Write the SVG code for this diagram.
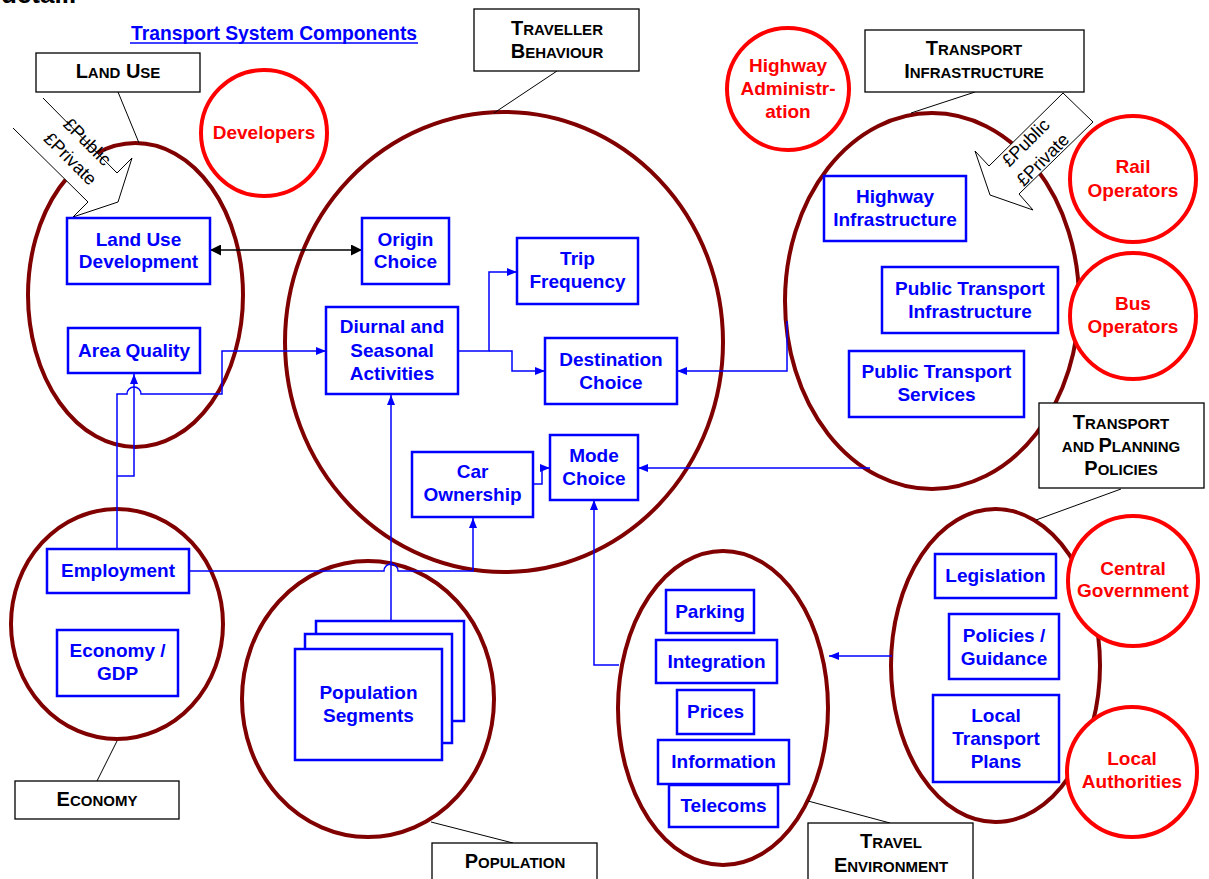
<svg xmlns="http://www.w3.org/2000/svg" width="1209" height="879" viewBox="0 0 1209 879">
  <style>
    text { font-family: "Liberation Sans", Arial, sans-serif; }
    .zone { fill: none; stroke: #800000; stroke-width: 4; }
    .actor { fill: #ffffff; stroke: #ff0000; stroke-width: 4; }
    .actor-t { fill: #ff0000; font-size: 19px; font-weight: bold; text-anchor: middle; }
    .box { fill: #ffffff; stroke: #0000ff; stroke-width: 2.5; }
    .box-t { fill: #0000ff; font-size: 19px; font-weight: bold; text-anchor: middle; }
    .lbl { fill: #ffffff; stroke: #000000; stroke-width: 1.3; }
    .lbl-t { fill: #000000; font-weight: bold; text-anchor: middle; font-size: 20px; }
    .sm { font-size: 15px; }
    .leader { stroke: #000000; stroke-width: 1; fill: none; }
    .link { fill: none; stroke: #0000ff; stroke-width: 1.5; }
    .money { fill: #ffffff; stroke: none; }
    .money-o { fill: none; stroke: #000000; stroke-width: 1; }
    .money-t { fill: #000000; font-size: 18px; text-anchor: middle; }
  </style>
  <defs>
    <marker id="ah" viewBox="0 0 10 8" refX="10" refY="4" markerWidth="10" markerHeight="8" markerUnits="userSpaceOnUse" orient="auto">
      <path d="M0,0 L10,4 L0,8 z" fill="#0000ff"/>
    </marker>
    <marker id="ahk" viewBox="0 0 11 11" refX="11" refY="5.5" markerWidth="11" markerHeight="11" markerUnits="userSpaceOnUse" orient="auto-start-reverse">
      <path d="M0,0 L11,5.5 L0,11 z" fill="#000000"/>
    </marker>
  </defs>

  <rect width="1209" height="879" fill="#ffffff"/>

  <!-- running text above the figure, clipped by the page edge -->
  <text x="1" y="3" font-family="Liberation Serif, serif" font-size="26" font-weight="bold" fill="#000000">detail.</text>

  <!-- title -->
  <g id="title">
    <text x="274" y="40" fill="#0000ff" font-size="19.3" font-weight="bold" text-anchor="middle">Transport System Components</text>
    <line x1="130" y1="43" x2="418" y2="43" stroke="#0000ff" stroke-width="1.6"/>
  </g>

  <!-- component zones -->
  <g id="zones">
    <ellipse id="zone-landuse" class="zone" cx="135.5" cy="295" rx="107.5" ry="152"/>
    <ellipse id="zone-traveller" class="zone" cx="504" cy="342" rx="219" ry="230"/>
    <ellipse id="zone-infra" class="zone" cx="932" cy="301" rx="147" ry="188"/>
    <ellipse id="zone-economy" class="zone" cx="117" cy="624" rx="106" ry="115"/>
    <ellipse id="zone-population" class="zone" cx="368" cy="699" rx="126" ry="138"/>
    <ellipse id="zone-travelenv" class="zone" cx="723" cy="708" rx="105" ry="157"/>
    <ellipse id="zone-policies" class="zone" cx="995.5" cy="665.5" rx="104.5" ry="156.5"/>
  </g>

  <!-- leader lines from zone titles -->
  <g id="leaders">
    <line class="leader" x1="118" y1="92" x2="139" y2="143"/>
    <line class="leader" x1="557" y1="71" x2="494" y2="113"/>
    <line class="leader" x1="975" y1="92" x2="911" y2="113"/>
    <line class="leader" x1="1121" y1="489" x2="1036" y2="520"/>
    <line class="leader" x1="117" y1="741" x2="97" y2="781"/>
    <line class="leader" x1="431" y1="822" x2="513" y2="843"/>
    <line class="leader" x1="808" y1="801" x2="890" y2="823"/>
  </g>

  <!-- funding arrows -->
  <g id="funding-landuse">
    <polygon class="money" points="43,98 117,173 132,158 118,202 73,217 88,202 13,128"/>
    <polyline class="money-o" points="43,98 117,173 132,158 118,202 73,217 88,202 13,128"/>
    <text class="money-t" transform="translate(83,146) rotate(45)">£Public</text>
    <text class="money-t" transform="translate(66,163) rotate(45)">£Private</text>
  </g>
  <g id="funding-infra">
    <polygon class="money" points="1063,93 1093,122 1019,194 1033,210 990,195 975,151 989,166"/>
    <polygon class="money-o" points="1063,93 1093,122 1019,194 1033,210 990,195 975,151 989,166"/>
    <text class="money-t" transform="translate(1030,147) rotate(-45)">£Public</text>
    <text class="money-t" transform="translate(1047,164) rotate(-45)">£Private</text>
  </g>

  <!-- connectors -->
  <g id="connectors">
    <path class="link" d="M117,549 V394 H127 A7,7 0 0 1 141,394 H222 V351 H326" marker-end="url(#ah)"/>
    <path class="link" d="M117,476 H134 V374" marker-end="url(#ah)"/>
    <path class="link" d="M189,571 H384 A7,7 0 0 1 398,571 H473 V518" marker-end="url(#ah)"/>
    <path class="link" d="M391,621 V395" marker-end="url(#ah)"/>
    <path class="link" d="M458,351 H489 V272 H517" marker-end="url(#ah)"/>
    <path class="link" d="M489,351 H512 V371 H545" marker-end="url(#ah)"/>
    <path class="link" d="M787,321 V371 H677" marker-end="url(#ah)"/>
    <path class="link" d="M870,468 H638" marker-end="url(#ah)"/>
    <path class="link" d="M533,484 H542 V468 H550" marker-end="url(#ah)"/>
    <path class="link" d="M619,665 H594 V500" marker-end="url(#ah)"/>
    <path class="link" d="M892,656 H829" marker-end="url(#ah)"/>
    <path d="M210,250 H362" stroke="#000000" stroke-width="1.3" fill="none" marker-start="url(#ahk)" marker-end="url(#ahk)"/>
  </g>

  <!-- zone titles -->
  <g id="label-landuse">
    <rect class="lbl" x="36" y="53" width="164" height="39"/>
    <text class="lbl-t" x="118" y="78">L<tspan class="sm">AND</tspan> U<tspan class="sm">SE</tspan></text>
  </g>
  <g id="label-traveller">
    <rect class="lbl" x="474" y="9" width="165" height="62"/>
    <text class="lbl-t" x="557" y="35">T<tspan class="sm">RAVELLER</tspan></text>
    <text class="lbl-t" x="557" y="58">B<tspan class="sm">EHAVIOUR</tspan></text>
  </g>
  <g id="label-infra">
    <rect class="lbl" x="865" y="30" width="219" height="62"/>
    <text class="lbl-t" x="974" y="55">T<tspan class="sm">RANSPORT</tspan></text>
    <text class="lbl-t" x="974" y="78">I<tspan class="sm">NFRASTRUCTURE</tspan></text>
  </g>
  <g id="label-policies">
    <rect class="lbl" x="1039" y="403" width="165" height="85"/>
    <text class="lbl-t" x="1121" y="429">T<tspan class="sm">RANSPORT</tspan></text>
    <text class="lbl-t" x="1121" y="452"><tspan class="sm">AND </tspan>P<tspan class="sm">LANNING</tspan></text>
    <text class="lbl-t" x="1121" y="475">P<tspan class="sm">OLICIES</tspan></text>
  </g>
  <g id="label-economy">
    <rect class="lbl" x="15" y="781" width="164" height="38"/>
    <text class="lbl-t" x="97" y="806">E<tspan class="sm">CONOMY</tspan></text>
  </g>
  <g id="label-population">
    <rect class="lbl" x="432" y="843" width="165" height="45"/>
    <text class="lbl-t" x="515" y="868">P<tspan class="sm">OPULATION</tspan></text>
  </g>
  <g id="label-travelenv">
    <rect class="lbl" x="808" y="823" width="165" height="65"/>
    <text class="lbl-t" x="891" y="848">T<tspan class="sm">RAVEL</tspan></text>
    <text class="lbl-t" x="891" y="872">E<tspan class="sm">NVIRONMENT</tspan></text>
  </g>

  <!-- stakeholders -->
  <g id="actor-developers">
    <circle class="actor" cx="264" cy="133" r="63"/>
    <text class="actor-t" x="264" y="139">Developers</text>
  </g>
  <g id="actor-highway">
    <circle class="actor" cx="788" cy="89" r="61"/>
    <text class="actor-t" x="788" y="72">Highway</text>
    <text class="actor-t" x="788" y="95">Administr-</text>
    <text class="actor-t" x="788" y="118">ation</text>
  </g>
  <g id="actor-rail">
    <circle class="actor" cx="1133" cy="179" r="63"/>
    <text class="actor-t" x="1133" y="173">Rail</text>
    <text class="actor-t" x="1133" y="197">Operators</text>
  </g>
  <g id="actor-bus">
    <circle class="actor" cx="1133" cy="316" r="63"/>
    <text class="actor-t" x="1133" y="310">Bus</text>
    <text class="actor-t" x="1133" y="333">Operators</text>
  </g>
  <g id="actor-central">
    <circle class="actor" cx="1133" cy="581" r="65"/>
    <text class="actor-t" x="1133" y="575">Central</text>
    <text class="actor-t" x="1133" y="597">Government</text>
  </g>
  <g id="actor-local">
    <circle class="actor" cx="1132" cy="772" r="65"/>
    <text class="actor-t" x="1132" y="765">Local</text>
    <text class="actor-t" x="1132" y="788">Authorities</text>
  </g>

  <!-- components -->
  <g id="node-landusedev">
    <rect class="box" x="67" y="218" width="143" height="66"/>
    <text class="box-t" x="138.5" y="246">Land Use</text>
    <text class="box-t" x="138.5" y="268">Development</text>
  </g>
  <g id="node-origin">
    <rect class="box" x="362" y="218" width="87" height="66"/>
    <text class="box-t" x="405.5" y="246">Origin</text>
    <text class="box-t" x="405.5" y="268">Choice</text>
  </g>
  <g id="node-areaquality">
    <rect class="box" x="68" y="328" width="132" height="45"/>
    <text class="box-t" x="134" y="357">Area Quality</text>
  </g>
  <g id="node-diurnal">
    <rect class="box" x="326" y="307" width="132" height="87"/>
    <text class="box-t" x="392" y="333">Diurnal and</text>
    <text class="box-t" x="392" y="357">Seasonal</text>
    <text class="box-t" x="392" y="380">Activities</text>
  </g>
  <g id="node-trip">
    <rect class="box" x="517" y="238" width="121" height="66"/>
    <text class="box-t" x="577.5" y="265">Trip</text>
    <text class="box-t" x="577.5" y="288">Frequency</text>
  </g>
  <g id="node-destination">
    <rect class="box" x="545" y="338" width="132" height="66"/>
    <text class="box-t" x="611" y="366">Destination</text>
    <text class="box-t" x="611" y="389">Choice</text>
  </g>
  <g id="node-mode">
    <rect class="box" x="550" y="435" width="88" height="65"/>
    <text class="box-t" x="594" y="462">Mode</text>
    <text class="box-t" x="594" y="485">Choice</text>
  </g>
  <g id="node-car">
    <rect class="box" x="412" y="452" width="121" height="65"/>
    <text class="box-t" x="472.5" y="478">Car</text>
    <text class="box-t" x="472.5" y="501">Ownership</text>
  </g>
  <g id="node-employment">
    <rect class="box" x="47" y="549" width="142" height="44"/>
    <text class="box-t" x="118" y="577">Employment</text>
  </g>
  <g id="node-economy">
    <rect class="box" x="57" y="630" width="121" height="66"/>
    <text class="box-t" x="117.5" y="657">Economy /</text>
    <text class="box-t" x="117.5" y="680">GDP</text>
  </g>
  <g id="node-population">
    <rect class="box" x="316" y="621" width="148" height="100"/>
    <rect class="box" x="305" y="634" width="147" height="109"/>
    <rect class="box" x="295" y="649" width="147" height="111"/>
    <text class="box-t" x="368.5" y="699">Population</text>
    <text class="box-t" x="368.5" y="722">Segments</text>
  </g>
  <g id="node-highwayinfra">
    <rect class="box" x="824" y="176" width="142" height="65"/>
    <text class="box-t" x="895" y="203">Highway</text>
    <text class="box-t" x="895" y="226">Infrastructure</text>
  </g>
  <g id="node-ptinfra">
    <rect class="box" x="882" y="267" width="176" height="66"/>
    <text class="box-t" x="970" y="295">Public Transport</text>
    <text class="box-t" x="970" y="318">Infrastructure</text>
  </g>
  <g id="node-ptservices">
    <rect class="box" x="849" y="351" width="175" height="66"/>
    <text class="box-t" x="936.5" y="378">Public Transport</text>
    <text class="box-t" x="936.5" y="401">Services</text>
  </g>
  <g id="node-legislation">
    <rect class="box" x="935" y="554" width="121" height="44"/>
    <text class="box-t" x="995.5" y="582">Legislation</text>
  </g>
  <g id="node-policies">
    <rect class="box" x="949" y="614" width="110" height="65"/>
    <text class="box-t" x="1004" y="642">Policies /</text>
    <text class="box-t" x="1004" y="665">Guidance</text>
  </g>
  <g id="node-ltp">
    <rect class="box" x="933" y="695" width="126" height="87"/>
    <text class="box-t" x="996" y="722">Local</text>
    <text class="box-t" x="996" y="745">Transport</text>
    <text class="box-t" x="996" y="768">Plans</text>
  </g>
  <g id="node-parking">
    <rect class="box" x="666" y="590" width="88" height="43"/>
    <text class="box-t" x="710" y="618">Parking</text>
  </g>
  <g id="node-integration">
    <rect class="box" x="656" y="640" width="121" height="43"/>
    <text class="box-t" x="716.5" y="668">Integration</text>
  </g>
  <g id="node-prices">
    <rect class="box" x="677" y="690" width="77" height="44"/>
    <text class="box-t" x="715.5" y="718">Prices</text>
  </g>
  <g id="node-telecoms">
    <rect class="box" x="669" y="785" width="109" height="42"/>
    <text class="box-t" x="723.5" y="812">Telecoms</text>
  </g>
  <g id="node-information">
    <rect class="box" x="658" y="740" width="131" height="44"/>
    <text class="box-t" x="723.5" y="768">Information</text>
  </g>
</svg>
